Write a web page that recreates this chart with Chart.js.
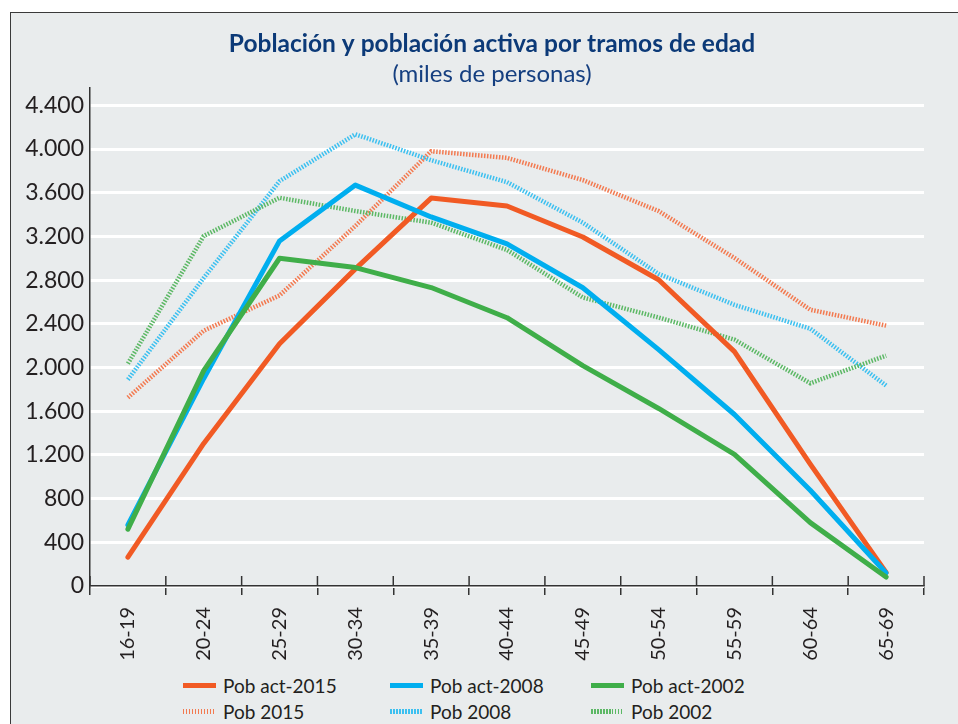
<!DOCTYPE html>
<html>
<head>
<meta charset="utf-8">
<script src="https://cdn.jsdelivr.net/npm/chart.js@4"></script>
<style>
  html, body { margin: 0; padding: 0; background: #fff; overflow: hidden; }
  body { width: 958px; height: 724px; position: relative; font-family: Lato, "Open Sans", sans-serif; }
  #frame { position: absolute; left: 10px; top: 12px; width: 980px; height: 740px;
           background: #e9eced; border-left: 1px solid #3a3a3a; border-top: 1px solid #3a3a3a; }
  #wrap { position: absolute; left: 0; top: 0; width: 962px; height: 660px; }
  .item { position: absolute; height: 24px; display: flex; align-items: center;
          font-size: 19px; color: #231f20; white-space: nowrap; }
  .sw { width: 33px; height: 5px; margin-right: 7px; }
</style>
</head>
<body>
<div id="frame">
  <div id="wrap"><canvas id="myChart"></canvas></div>
</div>
<div id="legend"></div>
<script>
// age brackets and series (miles de personas)
var labels = ['16-19', '20-24', '25-29', '30-34', '35-39', '40-44', '45-49', '50-54', '55-59', '60-64', '65-69'];
var act_2015 = [265, 1305, 2218, 2903, 3551, 3478, 3195, 2803, 2145, 1115, 125];
var act_2008 = [560, 1900, 3159, 3670, 3378, 3131, 2730, 2164, 1570, 876, 119];
var act_2002 = [520, 1972, 3000, 2915, 2732, 2456, 2017, 1625, 1205, 580, 82];
var pob_2015 = [1725, 2337, 2660, 3296, 3980, 3919, 3716, 3432, 3003, 2529, 2383];
var pob_2008 = [1890, 2820, 3706, 4135, 3898, 3697, 3326, 2857, 2574, 2355, 1835];
var pob_2002 = [2036, 3204, 3554, 3432, 3326, 3076, 2641, 2458, 2255, 1856, 2109];
var y_ticks = [0, 400, 800, 1200, 1600, 2000, 2400, 2800, 3200, 3600, 4000, 4400];

var orange = '#f15a24';
var blue = '#00aeef';
var green = '#3fae49';

// legend layout (3 columns, 2 rows)
var legend_items = [
    { label: 'Pob act-2015', color: orange, dotted: false },
    { label: 'Pob act-2008', color: blue, dotted: false },
    { label: 'Pob act-2002', color: green, dotted: false },
    { label: 'Pob 2015', color: '#f37a50', dotted: true },
    { label: 'Pob 2008', color: '#3cc0f0', dotted: true },
    { label: 'Pob 2002', color: '#5cb865', dotted: true }
];
var col_x = [183, 390, 591];
var row_y = [673, 699];

function build_legend() {
    let html = '';
    for (let i = 0; i < legend_items.length; i++) {
        let it = legend_items[i];
        let bg = it.dotted
            ? 'repeating-linear-gradient(90deg,' + it.color + ' 0 1.5px, transparent 1.5px 3px)'
            : it.color;
        html += '<div class="item" style="left:' + col_x[i % 3] + 'px;top:' + row_y[Math.floor(i / 3)] + 'px">'
             + '<span class="sw" style="background:' + bg + '"></span>' + it.label + '</div>';
    }
    document.getElementById('legend').innerHTML = html;
}
build_legend();

function solid(label, data, color) {
    return {
        label: label, data: data, borderColor: color, backgroundColor: color,
        borderWidth: 5, pointRadius: 0, tension: 0,
        borderCapStyle: 'round', borderJoinStyle: 'round'
    };
}
function dotted(label, data, color) {
    return {
        label: label, data: data, borderColor: color, backgroundColor: color,
        borderWidth: 4.5, borderDash: [1.5, 1.5], pointRadius: 0, tension: 0,
        borderCapStyle: 'butt', borderJoinStyle: 'miter'
    };
}

function fmt(v) {
    return String(v).replace(/\B(?=(\d{3})+(?!\d))/g, '.');
}

// ticks crossing the x axis upwards too
var crossTicks = {
    id: 'crossTicks',
    afterDraw(chart) {
        let xs = chart.scales.x;
        let ctx = chart.ctx;
        let step = xs.getPixelForValue(1) - xs.getPixelForValue(0);
        ctx.save();
        ctx.strokeStyle = '#333';
        ctx.lineWidth = 1.5;
        for (let i = 0; i <= labels.length; i++) {
            let px = xs.getPixelForValue(0) - step / 2 + i * step;
            ctx.beginPath();
            ctx.moveTo(px, xs.top - 10);
            ctx.lineTo(px, xs.top);
            ctx.stroke();
        }
        ctx.restore();
    }
};

var chart = new Chart(document.getElementById('myChart'), {
    type: 'line',
    data: {
        labels: labels,
        datasets: [
            solid('Pob act-2002', act_2002, green),
            solid('Pob act-2008', act_2008, blue),
            solid('Pob act-2015', act_2015, orange),
            dotted('Pob 2002', pob_2002, '#5cb865'),
            dotted('Pob 2008', pob_2008, '#3cc0f0'),
            dotted('Pob 2015', pob_2015, '#f37a50')
        ]
    },
    options: {
        responsive: true,
        maintainAspectRatio: false,
        animation: false,
        layout: { padding: 0 },
        plugins: {
            legend: { display: false },
            tooltip: { enabled: false },
            title: {
                display: true,
                text: 'Población y población activa por tramos de edad',
                color: '#0c3a78',
                font: { family: 'Lato', size: 24.5, weight: 'bold', lineHeight: 1.1 },
                padding: { top: 17.5, bottom: 4 }
            },
            subtitle: {
                display: true,
                text: '(miles de personas)',
                color: '#153f80',
                font: { family: 'Lato', size: 24, lineHeight: 1.1 },
                padding: { top: 0, bottom: 0 }
            }
        },
        scales: {
            x: {
                offset: true,
                grid: { drawOnChartArea: false, drawTicks: true, tickLength: 9, color: '#333', lineWidth: 1.5, offset: true },
                border: { color: '#333', width: 1.5 },
                ticks: {
                    color: '#231f20', font: { family: 'Lato', size: 20 },
                    minRotation: 90, maxRotation: 90, padding: 12, autoSkip: false
                },
                afterFit(scale) { scale.height = 87; }
            },
            y: {
                min: 0,
                max: 4560,
                grid: { color: '#ffffff', lineWidth: 3, drawTicks: false },
                border: { color: '#333', width: 1.5 },
                ticks: {
                    color: '#231f20', font: { family: 'Lato', size: 23 }, padding: 6,
                    callback: function(value) { return fmt(value); }
                },
                afterBuildTicks(scale) {
                    scale.ticks = y_ticks.map(function(v) { return { value: v }; });
                },
                afterFit(scale) { scale.width = 79; }
            },
            // empty right margin so the title stays centred on the whole frame
            yr: {
                position: 'right',
                min: 0,
                max: 4560,
                grid: { display: false },
                border: { display: false },
                ticks: { display: false },
                afterFit(scale) { scale.width = 49; }
            }
        }
    },
    plugins: [crossTicks]
});
</script>
</body>
</html>
